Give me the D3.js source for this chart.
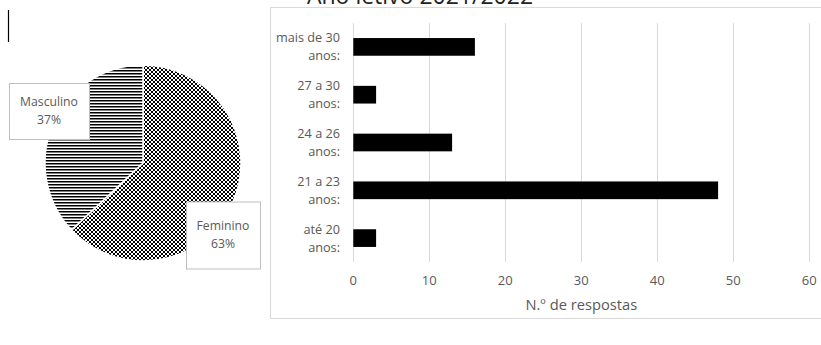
<!DOCTYPE html>
<html>
<head>
<meta charset="utf-8">
<script src="https://cdn.jsdelivr.net/npm/d3@7"></script>
<style>
  html, body { margin: 0; padding: 0; background: #fff; }
  svg { display: block; font-family: "Open Sans", "Noto Sans", sans-serif; }
</style>
</head>
<body>
<svg id="chart" width="821" height="345"></svg>
<script>
// Gender split of respondents (percent)
const genders = ["Feminino", "Masculino"];
const genderShares = [63, 37];

// Age groups, top to bottom, and number of answers
const ageGroups = ["mais de 30 anos:", "27 a 30 anos:", "24 a 26 anos:", "21 a 23 anos:", "até 20 anos:"];
const ageCounts = [16, 3, 13, 48, 3];

// Horizontal axis ticks
const xTicks = [0, 10, 20, 30, 40, 50, 60];

const title = "Ano letivo 2021/2022";
const xAxisTitle = "N.º de respostas";

const svg = d3.select("#chart");
const textGrey = "#595959";
const gridGrey = "#d9d9d9";

// ---- fill patterns for the pie slices ----
const defs = svg.append("defs");
const cell = 2;
const checker = defs.append("pattern")
  .attr("id", "checker").attr("patternUnits", "userSpaceOnUse")
  .attr("width", cell * 2).attr("height", cell * 2);
checker.append("rect").attr("width", cell * 2).attr("height", cell * 2).attr("fill", "#fff");
checker.append("rect").attr("x", 0).attr("y", 0).attr("width", cell).attr("height", cell)
  .attr("fill", "#000").attr("shape-rendering", "crispEdges");
checker.append("rect").attr("x", cell).attr("y", cell).attr("width", cell).attr("height", cell)
  .attr("fill", "#000").attr("shape-rendering", "crispEdges");

const stripes = defs.append("pattern")
  .attr("id", "stripes").attr("patternUnits", "userSpaceOnUse")
  .attr("width", 4).attr("height", 3);
stripes.append("rect").attr("width", 4).attr("height", 3).attr("fill", "#fff");
stripes.append("rect").attr("x", 0).attr("y", 0).attr("width", 4).attr("height", 1.5).attr("fill", "#000");

const fills = { "Feminino": "url(#checker)", "Masculino": "url(#stripes)" };

// small vertical mark at top-left
svg.append("line")
  .attr("x1", 8.5).attr("x2", 8.5).attr("y1", 10).attr("y2", 42)
  .attr("stroke", "#000").attr("stroke-width", 1.2);

// ---- pie ----
const pieCx = 143, pieCy = 163, pieR = 98;
const pieData = genders.map((g, i) => ({ name: g, value: genderShares[i] }));
const pie = d3.pie().sort(null).value(d => d.value);
const arc = d3.arc().innerRadius(0).outerRadius(pieR);
const arcs = pie(pieData);

const pieG = svg.append("g").attr("transform", `translate(${pieCx},${pieCy})`);
pieG.selectAll("path.slice")
  .data(arcs)
  .join("path")
  .attr("class", "slice")
  .attr("d", arc)
  .attr("fill", d => fills[d.data.name])
  .attr("stroke", "#fff")
  .attr("stroke-width", 1.5);

// data label boxes beside the pie
const labelBoxes = {
  "Masculino": { cx: -94, cy: -52, w: 80, h: 56 },
  "Feminino": { cx: 80, cy: 72, w: 74, h: 67 }
};
arcs.forEach(d => {
  const b = labelBoxes[d.data.name];
  const g = pieG.append("g").attr("transform", `translate(${b.cx},${b.cy})`);
  g.append("rect")
    .attr("x", -b.w / 2 + 0.5).attr("y", -b.h / 2 + 0.5)
    .attr("width", b.w).attr("height", b.h)
    .attr("fill", "#fff").attr("stroke", "#bfbfbf").attr("stroke-width", 1);
  g.append("text")
    .attr("text-anchor", "middle").attr("y", -5)
    .attr("font-size", 12.2).attr("fill", textGrey)
    .text(d.data.name);
  g.append("text")
    .attr("text-anchor", "middle").attr("y", 13)
    .attr("font-size", 12.2).attr("fill", textGrey)
    .text(d3.format(".0f")(d.data.value) + "%");
});

// ---- bar chart ----
// chart frame
svg.append("rect")
  .attr("x", 270.5).attr("y", 7.5).attr("width", 600).attr("height", 311)
  .attr("fill", "none").attr("stroke", gridGrey).attr("stroke-width", 1);

// title (partly above the top edge)
svg.append("text")
  .attr("x", 420).attr("y", 4)
  .attr("text-anchor", "middle")
  .attr("font-size", 23).attr("fill", "#222")
  .text(title);

const plotTop = 23, plotBottom = 262;
const x = d3.scaleLinear().domain([0, 60]).range([353.3, 809.3]);
const y = d3.scaleBand().domain(ageGroups).range([plotTop, plotBottom])
  .paddingInner(0.63).paddingOuter(0.315);

// vertical gridlines
svg.append("g").selectAll("line")
  .data(xTicks)
  .join("line")
  .attr("x1", d => Math.round(x(d)) + 0.5).attr("x2", d => Math.round(x(d)) + 0.5)
  .attr("y1", plotTop).attr("y2", plotBottom)
  .attr("stroke", gridGrey).attr("stroke-width", 1);

// tick labels
svg.append("g").selectAll("text")
  .data(xTicks)
  .join("text")
  .attr("x", d => x(d)).attr("y", 284.5)
  .attr("text-anchor", "middle")
  .attr("font-size", 13).attr("fill", textGrey)
  .text(d => d);

// axis title
svg.append("text")
  .attr("x", (x(0) + x(60)) / 2).attr("y", 310)
  .attr("text-anchor", "middle")
  .attr("font-size", 14.7).attr("fill", textGrey)
  .text(xAxisTitle);

// bars
svg.append("g").selectAll("rect")
  .data(ageGroups.map((c, i) => ({ c, v: ageCounts[i] })))
  .join("rect")
  .attr("x", x(0)).attr("y", d => y(d.c))
  .attr("width", d => x(d.v) - x(0)).attr("height", y.bandwidth())
  .attr("fill", "#000");

// category labels, split over two lines
const catG = svg.append("g").selectAll("text")
  .data(ageGroups)
  .join("text")
  .attr("text-anchor", "end")
  .attr("font-size", 12.7).attr("fill", textGrey)
  .attr("transform", d => `translate(340,${y(d) + y.bandwidth() / 2})`);
catG.each(function (d) {
  const words = d.split(" ");
  const first = words.slice(0, -1).join(" ");
  const second = words[words.length - 1];
  const t = d3.select(this);
  t.append("tspan").attr("x", 0).attr("y", -4.5).text(first);
  t.append("tspan").attr("x", 0).attr("y", 13.5).text(second);
});
</script>
</body>
</html>
